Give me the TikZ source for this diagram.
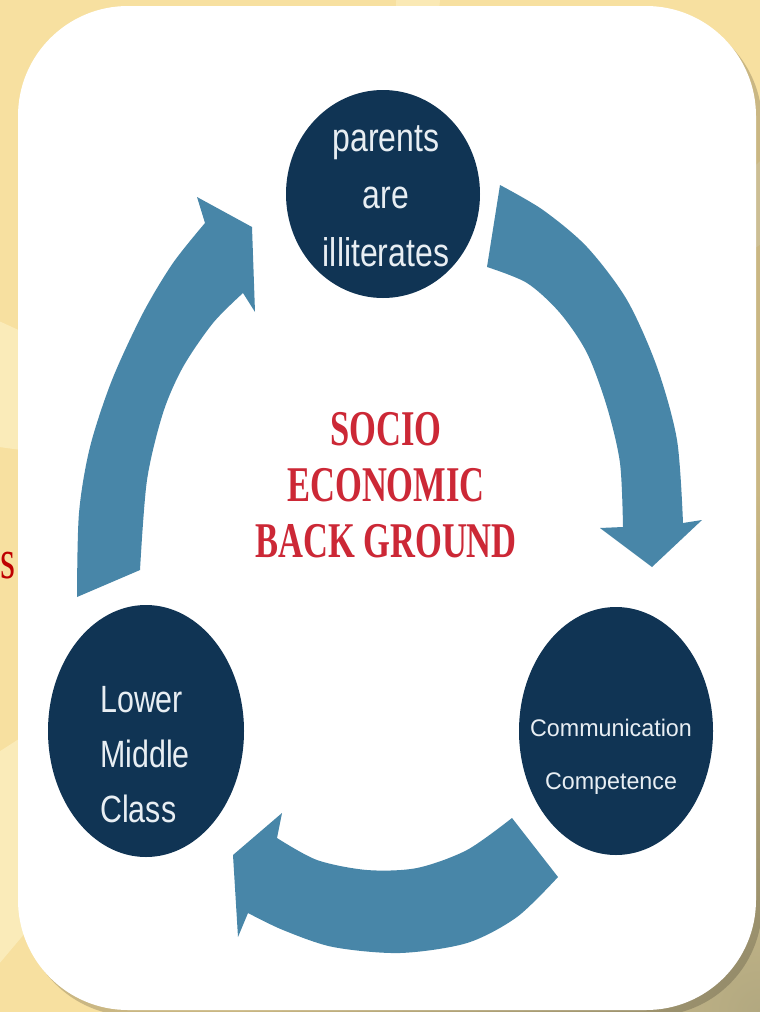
\documentclass[tikz,border=0pt]{standalone}
\usepackage{fontspec}
\setmainfont{Liberation Serif}
\newfontfamily\circfont[FakeStretch=0.8]{Liberation Sans}
\newfontfamily\commfont[FakeStretch=0.97]{Liberation Sans}
\newfontfamily\centfont[FakeStretch=0.69]{Liberation Serif}
\usetikzlibrary{shapes.geometric}
\definecolor{bgcream}{RGB}{247,224,160}
\definecolor{bglight}{RGB}{252,240,196}
\definecolor{bgolive}{RGB}{178,168,128}
\definecolor{navy}{RGB}{16,52,84}
\definecolor{arrowblue}{RGB}{72,134,168}
\definecolor{ringwhite}{RGB}{232,238,243}
\definecolor{socred}{RGB}{204,40,54}
\definecolor{slidered}{RGB}{190,0,0}

\begin{document}
\begin{tikzpicture}[x=1pt,y=-1pt,line join=round,
  ring/.style={ellipse,fill=navy,inner sep=0pt},
  ringtext/.style={text=ringwhite,align=center,inner sep=0pt},
  cyclearrow/.style={fill=arrowblue}]
\useasboundingbox (0,0) rectangle (760,1012);
\clip (0,0) rectangle (760,1012);
% background
\fill[bgcream] (0,0) rectangle (760,1012);
\fill[bglight,opacity=0.7] (390,500) -- (-200,230) -- (-200,420) -- cycle;
\fill[bglight,opacity=0.7] (390,500) -- (-200,880) -- (-200,1200) -- cycle;
\fill[bglight,opacity=0.6] (390,500) -- (400,-300) -- (470,-300) -- cycle;
\fill[bglight,opacity=0.6] (390,500) -- (1100,-150) -- (1100,10) -- cycle;
\shade[inner color=bgolive,outer color=bgcream] (760,1012) circle (520);
\draw[color=slidered] (0.5,578) node[anchor=base west,inner sep=0pt,font=\centfont\fontsize{56}{60}\selectfont] (slides) {s};
% white card
\fill[black,opacity=0.18,rounded corners=110] (23,13) rectangle (762,1016);
\fill[white,rounded corners=110] (18,6) rectangle (756,1010);
% arrows
\fill[cyclearrow] plot[smooth] coordinates {(77,597) (79,513) (90,447) (112,380) (143,313) (173,263) (205,223)}
  -- (197,197) -- (252,227) -- (255,312) -- (243,293)
  -- plot[smooth] coordinates {(243,293) (213,323) (183,367) (163,413) (147,480) (140,570)} -- cycle;
\fill[cyclearrow] plot[smooth] coordinates {(500,185) (543,210) (587,247) (627,300) (657,367) (677,440) (683,523)}
  -- (702,520) -- (652,567) -- (600,528) -- (623,527)
  -- plot[smooth] coordinates {(623,527) (620,463) (607,407) (587,353) (560,313) (527,283) (487,267)} -- cycle;
\fill[cyclearrow] plot[smooth] coordinates {(558,877) (517,917) (467,943) (400,953) (333,947) (283,930) (248,913)}
  -- (238,937) -- (233,855) -- (282,813) -- (277,838)
  -- plot[smooth] coordinates {(277,838) (317,860) (367,870) (417,868) (467,850) (512,818)} -- cycle;
% circles
\node[ring,minimum width=194pt,minimum height=208pt] (parents) at (383,194) {};
\node[ring,minimum width=194pt,minimum height=248pt] (comm) at (616,731) {};
\node[ring,minimum width=196pt,minimum height=252pt] (lower) at (146,731) {};
\node[ringtext,font=\circfont\fontsize{40}{57.5}\selectfont] (parentstext) at (386,196) {parents\\are\\illiterates};
\node[ringtext,align=left,anchor=west,font=\circfont\fontsize{38}{55}\selectfont] (lowertext) at (100,755) {Lower\\Middle\\Class};
\node[ringtext,font=\commfont\fontsize{24}{53}\selectfont] (commtext) at (611,757) {Communication\\Competence};
% centre
\node[align=center,inner sep=0pt,text=socred,font=\centfont\bfseries\fontsize{50}{56}\selectfont] (socio) at (386,485) {SOCIO\\ECONOMIC\\BACK GROUND};
\end{tikzpicture}
\end{document}
